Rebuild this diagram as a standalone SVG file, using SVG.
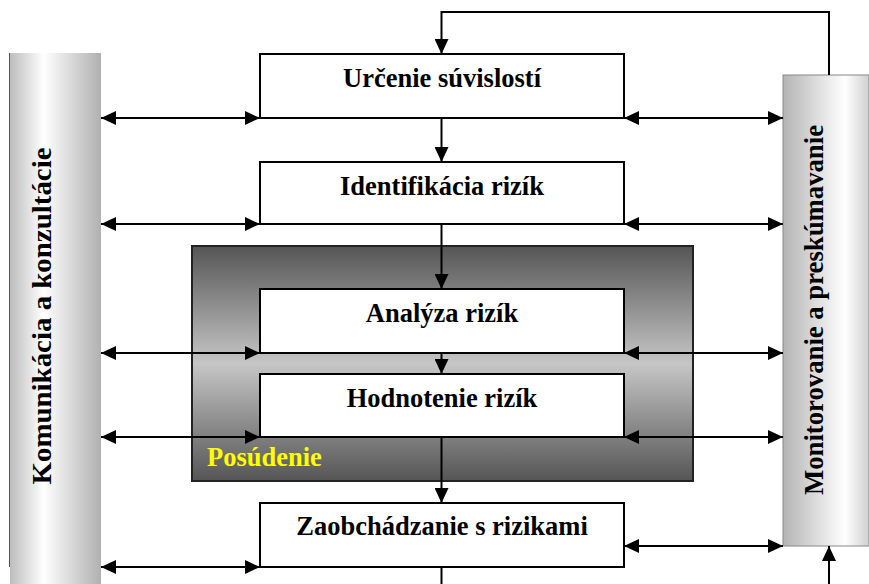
<svg xmlns="http://www.w3.org/2000/svg" width="869" height="584" viewBox="0 0 869 584">
<style>
.box{fill:#fff;stroke:#000;stroke-width:2}
.lbl{font-family:"Liberation Serif","Times New Roman",serif;font-weight:bold;font-size:26.5px;fill:#000;text-anchor:middle}
.ln{fill:none;stroke:#000;stroke-width:2}
.a2{marker-start:url(#ah);marker-end:url(#ah)}
.a1{marker-end:url(#ah)}
</style>
<defs>
<marker id="ah" markerUnits="userSpaceOnUse" markerWidth="15" markerHeight="14" refX="15" refY="7" orient="auto-start-reverse">
<path d="M0,0 L15,7 L0,14 z" fill="#000"/>
</marker>
<linearGradient id="gl" x1="0" y1="0" x2="1" y2="0">
<stop offset="0" stop-color="#bdbdbd"/>
<stop offset="0.37" stop-color="#ffffff"/>
<stop offset="1" stop-color="#b0b0b0"/>
</linearGradient>
<linearGradient id="gr" x1="0" y1="0" x2="1" y2="0">
<stop offset="0" stop-color="#b4b4b4"/>
<stop offset="0.72" stop-color="#ffffff"/>
<stop offset="1" stop-color="#d0d0d0"/>
</linearGradient>
<linearGradient id="gp" x1="0" y1="0" x2="0" y2="1">
<stop offset="0" stop-color="#555"/>
<stop offset="0.5" stop-color="#c6c6c6"/>
<stop offset="1" stop-color="#555"/>
</linearGradient>
</defs>
<g id="komunikacia">
<rect x="10" y="53" width="91" height="531" fill="url(#gl)"/>
<line x1="9.5" y1="53" x2="9.5" y2="567" stroke="#555" stroke-width="1"/>
<text class="lbl" transform="translate(51,316) rotate(-90)" textLength="337" lengthAdjust="spacingAndGlyphs">Komunikácia a konzultácie</text>
</g>
<g id="monitorovanie">
<rect x="783" y="75" width="86" height="471" fill="url(#gr)" stroke="#888" stroke-width="1"/>
<text class="lbl" transform="translate(823,310) rotate(-90)" textLength="370" lengthAdjust="spacingAndGlyphs">Monitorovanie a preskúmavanie</text>
</g>
<g id="posudenie">
<rect x="192" y="246" width="501" height="235" fill="url(#gp)" stroke="#222" stroke-width="2"/>
<text x="207" y="466" style="font-family:'Liberation Serif','Times New Roman',serif;font-weight:bold;font-size:26.5px;fill:#ffff00">Posúdenie</text>
</g>
<g id="urcenie">
<rect class="box" x="260" y="54" width="364" height="64"/>
<text class="lbl" x="442" y="87">Určenie súvislostí</text>
</g>
<g id="identifikacia">
<rect class="box" x="260" y="162" width="364" height="62"/>
<text class="lbl" x="442" y="195">Identifikácia rizík</text>
</g>
<g id="analyza">
<rect class="box" x="260" y="289" width="364" height="64"/>
<text class="lbl" x="442" y="322">Analýza rizík</text>
</g>
<g id="hodnotenie">
<rect class="box" x="260" y="374" width="364" height="63"/>
<text class="lbl" x="442" y="407">Hodnotenie rizík</text>
</g>
<g id="zaobchadzanie">
<rect class="box" x="260" y="503" width="364" height="64"/>
<text class="lbl" x="442" y="535">Zaobchádzanie s rizikami</text>
</g>
<g id="connectors">
<path class="ln a1" d="M829,75 V12 H441.5 V54"/>
<path class="ln a1" d="M441.5,118 V162"/>
<path class="ln a1" d="M441.5,224 V289"/>
<path class="ln a1" d="M441.5,353 V374"/>
<path class="ln a1" d="M441.5,437 V503"/>
<path class="ln" d="M441.5,567 V584"/>
<path class="ln a1" d="M829,584 V546"/>
<path class="ln a2" d="M101,118 H260"/>
<path class="ln a2" d="M101,224 H260"/>
<path class="ln a2" d="M101,353 H260"/>
<path class="ln a2" d="M101,437 H260"/>
<path class="ln a2" d="M101,567 H260"/>
<path class="ln a2" d="M624,118 H783"/>
<path class="ln a2" d="M624,224 H783"/>
<path class="ln a2" d="M624,353 H783"/>
<path class="ln a2" d="M624,437 H783"/>
<path class="ln a2" d="M624,546 H783"/>
</g>
</svg>
